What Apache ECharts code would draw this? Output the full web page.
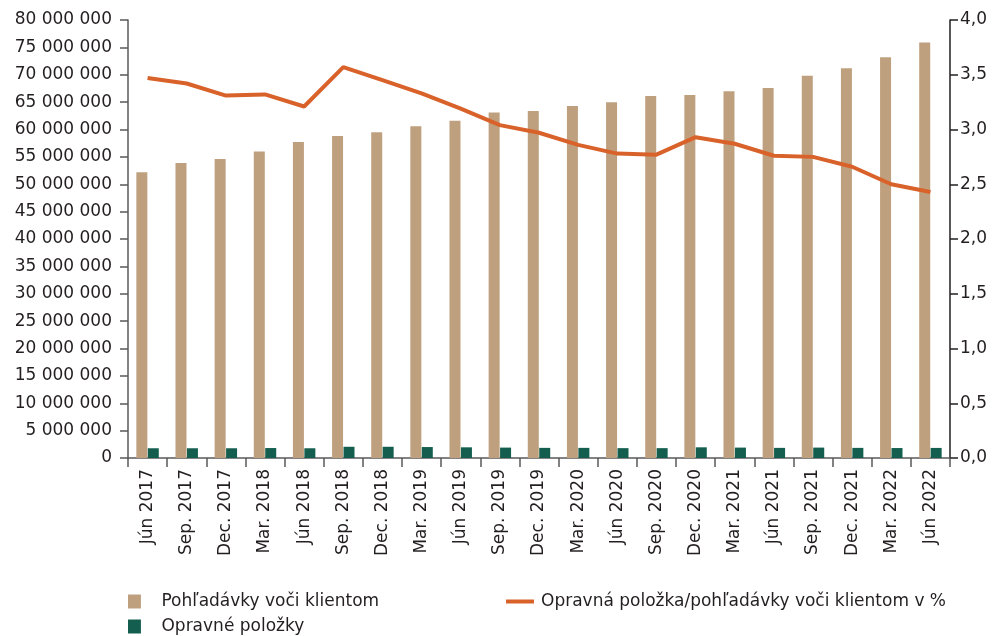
<!DOCTYPE html>
<html>
<head>
<meta charset="utf-8">
<script src="https://cdn.jsdelivr.net/npm/echarts@6/dist/echarts.min.js"></script>
<style>
  html, body { margin: 0; padding: 0; background: #fff; }
  #chart { width: 996px; height: 636px; }
</style>
</head>
<body>
<div id="chart"></div>
<script>
// categories (quarters)
var categories = ["Jún 2017", "Sep. 2017", "Dec. 2017", "Mar. 2018", "Jún 2018", "Sep. 2018", "Dec. 2018",
  "Mar. 2019", "Jún 2019", "Sep. 2019", "Dec. 2019", "Mar. 2020", "Jún 2020", "Sep. 2020", "Dec. 2020",
  "Mar. 2021", "Jún 2021", "Sep. 2021", "Dec. 2021", "Mar. 2022", "Jún 2022"];

// Pohľadávky voči klientom (EUR)
var receivables = [52200000, 53900000, 54600000, 56000000, 57700000, 58800000, 59500000,
  60600000, 61600000, 63100000, 63400000, 64300000, 65000000, 66100000, 66300000,
  67000000, 67600000, 69800000, 71200000, 73200000, 75900000];

// Opravné položky (EUR)
var provisions = [1780000, 1780000, 1780000, 1820000, 1780000, 2050000, 2050000,
  2000000, 1950000, 1900000, 1850000, 1850000, 1800000, 1800000, 1950000,
  1900000, 1850000, 1900000, 1850000, 1820000, 1840000];

// Opravná položka / pohľadávky v %
var ratio = [3.47, 3.42, 3.31, 3.32, 3.21, 3.57, 3.45, 3.33, 3.19, 3.04, 2.97,
  2.86, 2.78, 2.77, 2.93, 2.87, 2.76, 2.75, 2.66, 2.50, 2.43];

var names = ["Pohľadávky voči klientom", "Opravné položky", "Opravná položka/pohľadávky voči klientom v %"];

var font = "DejaVu Sans";
var textColor = "#231f20";
var axisColor = "#5a5a5a";

var chart = echarts.init(document.getElementById("chart"));

// legend icons: small squares for bars, a short thick stroke for the line
var squareIcon = "path://M0,0h12v13h-12z";
var lineIcon = "path://M0,0h28v4h-28z";

var legendText = {
  fontFamily: font, fontSize: 17, color: textColor,
  rich: { gapL: { width: 8, fontSize: 17 }, gapS: { width: 2, fontSize: 17 } }
};

chart.setOption({
  animation: false,
  textStyle: { fontFamily: font, color: textColor },
  grid: { left: 128, right: 46, top: 20, bottom: 178 },
  legend: [
    {
      // bars, stacked in one column
      orient: "vertical",
      left: 128,
      top: 593,
      height: 60,
      padding: 0,
      itemWidth: 28,
      itemHeight: 14,
      itemGap: 8,
      icon: squareIcon,
      textStyle: legendText,
      formatter: function (name) { return "{gapL| }" + name; },
      data: [names[0], names[1]]
    },
    {
      // line
      left: 506,
      top: 593,
      padding: 0,
      itemWidth: 28,
      itemHeight: 14,
      icon: lineIcon,
      textStyle: legendText,
      formatter: function (name) { return "{gapS| }" + name; },
      data: [names[2]]
    }
  ],
  xAxis: {
    type: "category",
    data: categories,
    axisLine: { lineStyle: { color: axisColor, width: 1.5 } },
    axisTick: { show: true, length: 9, lineStyle: { color: axisColor, width: 1.5 } },
    axisLabel: { rotate: 90, fontSize: 17, color: textColor, fontFamily: font, margin: 11 }
  },
  yAxis: [
    {
      type: "value",
      min: 0,
      max: 80000000,
      interval: 5000000,
      axisLine: { show: true, lineStyle: { color: axisColor, width: 1.5 } },
      axisTick: { show: true, length: 8, lineStyle: { color: axisColor, width: 1.5 } },
      splitLine: { show: false },
      axisLabel: {
        fontSize: 17, color: textColor, fontFamily: font, margin: 16,
        formatter: function (v) {
          return String(v).replace(/\B(?=(\d{3})+(?!\d))/g, " ");
        }
      }
    },
    {
      type: "value",
      min: 0,
      max: 4,
      interval: 0.5,
      position: "right",
      axisLine: { show: true, lineStyle: { color: "#231f20", width: 1.5 } },
      axisTick: { show: true, length: 8, lineStyle: { color: "#231f20", width: 1.5 } },
      splitLine: { show: false },
      axisLabel: {
        fontSize: 17, color: textColor, fontFamily: font, margin: 10,
        formatter: function (v) { return v.toFixed(1).replace(".", ","); }
      }
    }
  ],
  series: [
    {
      name: names[0],
      type: "bar",
      data: receivables,
      barWidth: 11,
      barGap: "4%",
      itemStyle: { color: "#bfa07e" }
    },
    {
      name: names[1],
      type: "bar",
      data: provisions,
      barWidth: 11,
      itemStyle: { color: "#135e4e" }
    },
    {
      name: names[2],
      type: "line",
      yAxisIndex: 1,
      data: ratio,
      symbol: "none",
      lineStyle: { color: "#d9622b", width: 4 },
      itemStyle: { color: "#d9622b" }
    }
  ]
});
</script>
</body>
</html>
